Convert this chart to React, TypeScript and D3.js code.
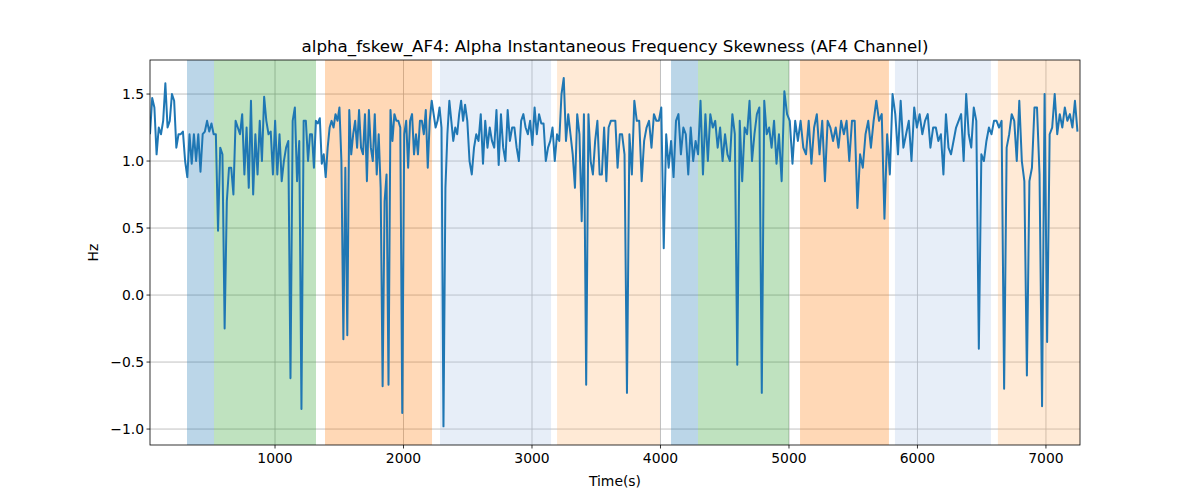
import * as d3 from 'd3';

// segments of the signal: [startTime, endTime] and values
const seg1Range = [27, 1257];
const seg1 = [1.2, 1.47, 1.4, 1.05, 1.25, 1.2, 1.3, 1.58, 1.25, 1.3, 1.5, 1.45, 1.1, 1.2, 1.2, 1.22, 1.0, 0.88, 1.2, 0.98, 1.2, 1.0, 1.2, 0.92, 1.2, 1.22, 1.3, 1.22, 1.28, 1.2, 1.2, 0.48, 1.1, 1.05, -0.25, 0.7, 0.95, 0.95, 0.75, 1.3, 1.25, 1.2, 1.35, 0.9, 1.25, 0.8, 1.45, 0.75, 1.2, 0.9, 1.3, 1.0, 1.48, 1.3, 1.2, 1.22, 0.9, 1.3, 0.9, 1.2, 0.85, 1.0, 1.1, 1.15, -0.62, 1.3, 1.4, 0.85, 1.15, -0.85, 1.3, 1.3];
const seg2Range = [1257, 2479];
const seg2 = [1.0, 1.2, 1.2, 0.95, 1.3, 1.28, 1.32, 0.98, 1.05, 0.88, 1.1, 1.25, 1.3, 1.25, 1.35, 1.3, 1.4, 1.0, -0.33, 0.95, -0.3, 1.38, 1.05, 1.2, 1.3, 1.1, 1.38, 1.1, 1.05, 1.35, 0.85, 1.38, 1.1, 1.0, 1.35, 0.9, 1.2, 0.8, -0.68, 0.7, 0.9, -0.67, 1.38, 1.15, 1.35, 1.3, 1.3, 1.25, -0.88, 1.2, 1.3, 0.95, 1.3, 1.35, 1.05, 1.2, 1.05, 1.3, 1.3, 1.2, 1.38, 0.95, 1.3, 1.45, 1.35, 1.25, 1.3, 1.4, 1.25, -0.98, 0.8, 1.2, 1.45, 1.3, 1.15, 1.25, 1.2, 1.35, 1.45, 1.3];
const seg3Range = [2479, 3701];
const seg3 = [1.42, 1.3, 1.0, 0.9, 1.1, 1.2, 1.15, 1.35, 0.98, 1.3, 1.1, 1.25, 1.15, 1.1, 1.38, 0.97, 1.35, 1.1, 1.0, 1.38, 1.15, 1.25, 1.25, 1.1, 1.0, 1.3, 1.35, 1.25, 1.2, 1.3, 1.12, 1.4, 1.2, 1.35, 1.28, 1.28, 1.0, 1.1, 1.15, 1.25, 1.0, 1.2, 1.15, 1.5, 1.62, 1.15, 1.35, 1.2, 1.05, 0.8, 1.35, 1.2, 0.55, 1.35, -0.67, 1.35, 1.0, 0.9, 1.15, 1.3, 0.9, 0.9, 1.25, 0.85, 1.25, 1.3, 1.3, 1.3, 0.95, 1.2];
const seg4Range = [3701, 4922];
const seg4 = [1.2, 1.05, -0.73, 1.2, 0.9, 1.45, 1.3, 1.3, 0.85, 1.15, 1.25, 1.3, 1.1, 1.35, 1.3, 1.3, 1.4, 0.35, 1.2, 0.95, 1.15, 0.88, 1.3, 1.35, 1.05, 1.25, 1.2, 0.9, 1.25, 1.0, 1.15, 1.05, 1.45, 0.9, 1.35, 1.0, 1.35, 1.25, 1.3, 1.1, 1.25, 1.0, 1.2, 1.05, 1.0, 1.35, 1.2, -0.52, 1.3, 0.85, 1.25, 1.2, 1.45, 1.0, 1.2, 1.35, 1.4, -0.73, 1.45, 1.2, 1.25, 1.1, 1.3, 0.98];
const seg5Range = [4922, 6143];
const seg5 = [1.2, 0.85, 1.52, 1.35, 1.3, 0.98, 1.3, 1.15, 1.3, 1.1, 1.05, 1.3, 0.98, 1.25, 1.35, 1.05, 1.3, 0.85, 1.3, 1.25, 1.15, 1.25, 1.1, 1.3, 1.2, 1.3, 1.0, 1.3, 1.3, 0.65, 1.05, 0.95, 1.2, 1.3, 1.1, 1.3, 1.45, 1.3, 1.35, 0.57, 1.2, 0.9, 1.5, 1.35, 1.05, 1.45, 1.1, 1.2, 1.3, 1.0, 1.4, 1.25, 1.35, 1.2, 1.3, 1.35, 1.1, 1.25];
const seg6Range = [6143, 7265];
const seg6 = [1.25, 1.15, 1.2, 0.9, 1.35, 1.1, 1.05, 1.15, 1.25, 1.3, 1.35, 1.0, 1.5, 1.2, 1.1, 1.4, 1.3, -0.4, 1.05, 1.0, 1.15, 1.25, 1.2, 1.3, 1.3, 1.25, 1.3, -0.7, 1.1, 1.2, 1.35, 1.3, 1.0, 1.45, 1.0, 0.85, -0.6, 0.85, 0.95, 1.4, 1.4, 0.9, -0.83, 1.5, -0.35, 1.2, 1.25, 1.5, 1.2, 1.35, 1.25, 1.4, 1.3, 1.35, 1.25, 1.45, 1.22];

// shaded phases
const spanStarts = [315, 525, 1389, 2284, 3195, 4082, 4292, 5086, 5825, 6626];
const spanEnds = [525, 1319, 2222, 3148, 3996, 4292, 5000, 5778, 6572, 7300];
const spanColors = ['#1f77b4', '#2ca02c', '#ff7f0e', '#aec7e8', '#ffbb78', '#1f77b4', '#2ca02c', '#ff7f0e', '#aec7e8', '#ffbb78'];

const xTicks = [1000, 2000, 3000, 4000, 5000, 6000, 7000];
const yTicks = [-1.0, -0.5, 0.0, 0.5, 1.0, 1.5];

type Pt = { t: number; v: number };

function build(): Pt[] {
  const segs: [number[], number[]][] = [
    [seg1Range, seg1], [seg2Range, seg2], [seg3Range, seg3],
    [seg4Range, seg4], [seg5Range, seg5], [seg6Range, seg6],
  ];
  const pts: Pt[] = [];
  segs.forEach(([r, vals]) => {
    const step = (r[1] - r[0]) / vals.length;
    vals.forEach((v, i) => pts.push({ t: r[0] + i * step, v }));
  });
  return pts;
}

export default function App() {
  const W = 1200, H = 500;
  const m = { left: 150, right: 1080, top: 60, bottom: 445 };
  const x = d3.scaleLinear().domain([27, 7265]).range([m.left, m.right]);
  const y = d3.scaleLinear().domain([-1.119, 1.754]).range([m.bottom, m.top]);
  const data = build();
  const line = d3.line<Pt>().x(d => x(d.t)).y(d => y(d.v));
  const font = 'DejaVu Sans, sans-serif';

  return (
    <svg width={W} height={H} style={{ position: 'absolute', left: 0, top: 0 }} fontFamily={font}>
      <rect width={W} height={H} fill="#fff" />
      <defs>
        <clipPath id="clip">
          <rect x={m.left} y={m.top} width={m.right - m.left} height={m.bottom - m.top} />
        </clipPath>
      </defs>
      {/* grid */}
      {xTicks.map(t => (
        <line key={'gx' + t} x1={x(t)} x2={x(t)} y1={m.top} y2={m.bottom} stroke="#b0b0b0" strokeWidth={0.8} />
      ))}
      {yTicks.map(t => (
        <line key={'gy' + t} x1={m.left} x2={m.right} y1={y(t)} y2={y(t)} stroke="#b0b0b0" strokeWidth={0.8} />
      ))}
      {/* spans */}
      <g clipPath="url(#clip)">
        {spanStarts.map((s, i) => (
          <rect key={'s' + i} x={x(s)} y={m.top} width={x(spanEnds[i]) - x(s)} height={m.bottom - m.top}
            fill={spanColors[i]} fillOpacity={0.3} />
        ))}
        <path d={line(data) || ''} fill="none" stroke="#1f77b4" strokeWidth={2} strokeLinejoin="round" />
      </g>
      {/* frame */}
      <rect x={m.left} y={m.top} width={m.right - m.left} height={m.bottom - m.top} fill="none" stroke="#000" strokeWidth={0.8} />
      {xTicks.map(t => (
        <g key={'xt' + t}>
          <line x1={x(t)} x2={x(t)} y1={m.bottom} y2={m.bottom + 3.5} stroke="#000" strokeWidth={0.8} />
          <text x={x(t)} y={m.bottom + 18} textAnchor="middle" fontSize={13.9}>{t}</text>
        </g>
      ))}
      {yTicks.map(t => (
        <g key={'yt' + t}>
          <line x1={m.left - 3.5} x2={m.left} y1={y(t)} y2={y(t)} stroke="#000" strokeWidth={0.8} />
          <text x={m.left - 6} y={y(t) + 5} textAnchor="end" fontSize={13.9}>{t.toFixed(1).replace('-', '−')}</text>
        </g>
      ))}
      <text x={(m.left + m.right) / 2} y={486} textAnchor="middle" fontSize={13.9}>Time(s)</text>
      <text transform={`translate(98,${(m.top + m.bottom) / 2}) rotate(-90)`} textAnchor="middle" fontSize={13.9}>Hz</text>
      <text x={(m.left + m.right) / 2} y={52} textAnchor="middle" fontSize={16.7}>alpha_fskew_AF4: Alpha Instantaneous Frequency Skewness (AF4 Channel)</text>
    </svg>
  );
}
